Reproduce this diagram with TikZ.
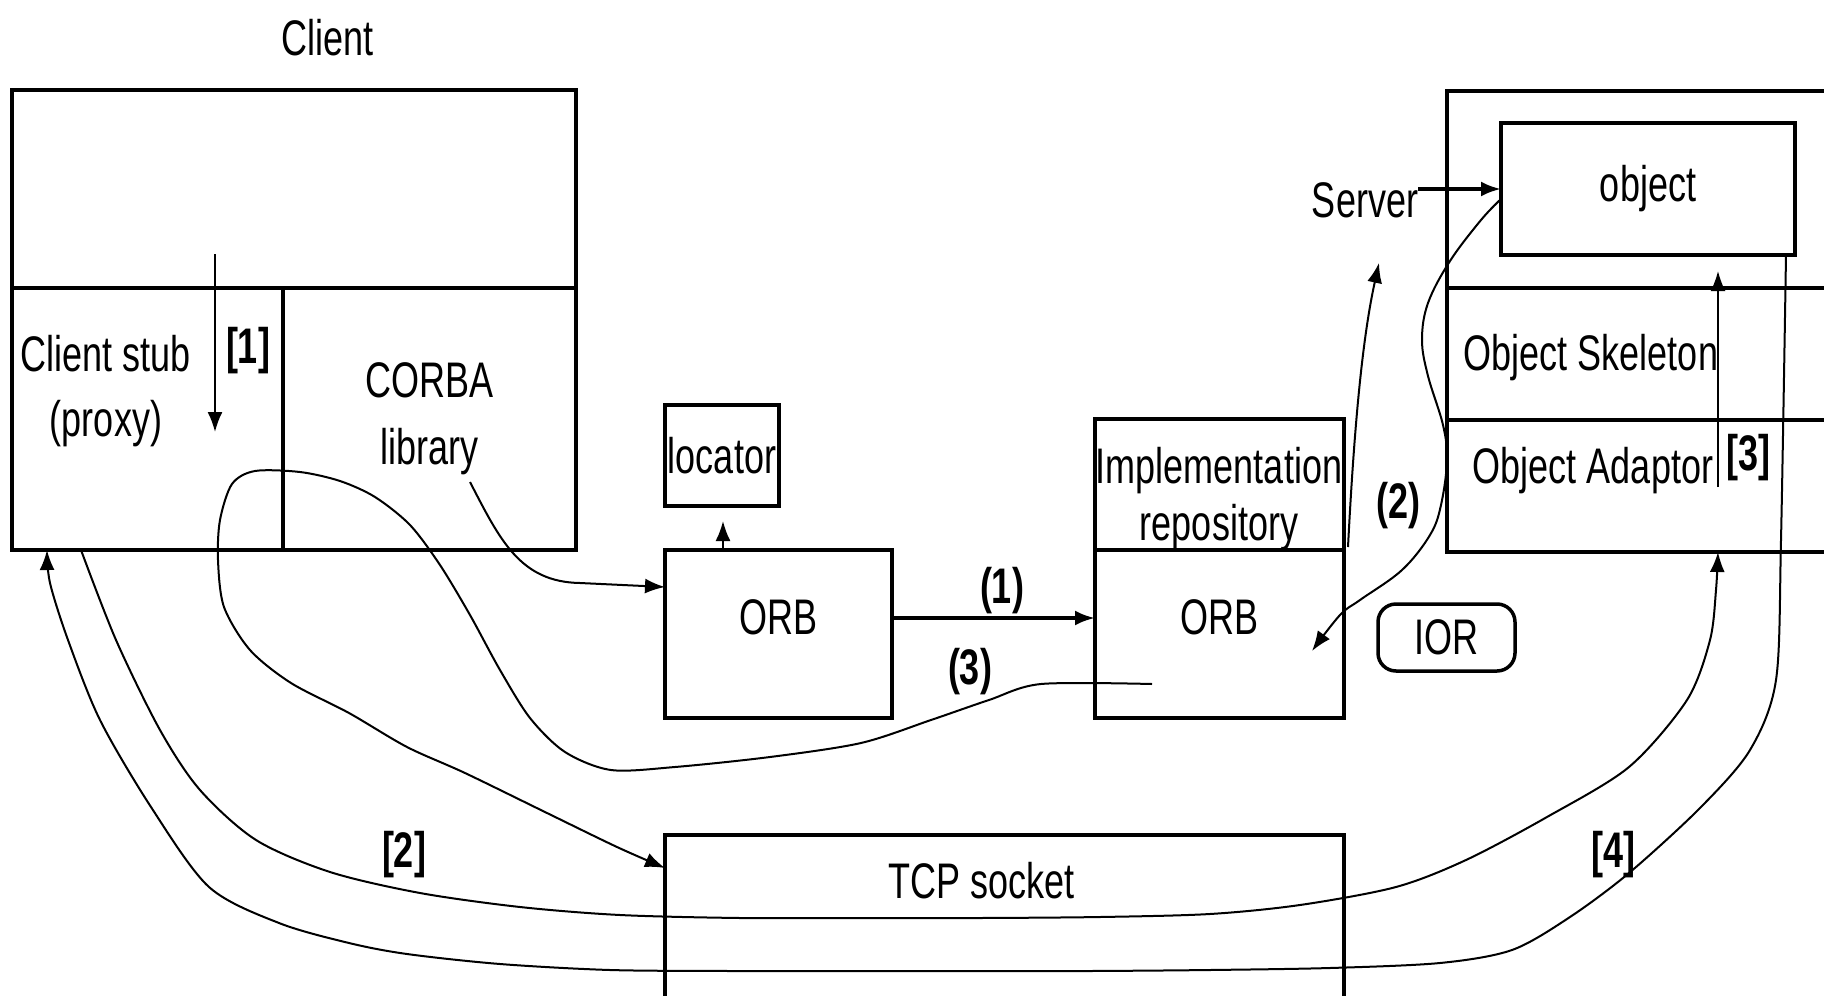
\documentclass[tikz,border=0pt]{standalone}
\usepackage{fontspec}
\setmainfont{Liberation Sans}[FakeStretch=0.72]
\usetikzlibrary{arrows.meta}

\begin{document}
\begin{tikzpicture}[x=1pt, y=-1pt,
    font=\fontsize{50}{60}\selectfont,
    >={Latex[length=20pt,width=15pt]},
    box/.style={draw, line width=3.5pt, inner sep=0pt, outer sep=0pt, anchor=north west},
    lbl/.style={inner sep=0pt, align=center},
    num/.style={inner sep=0pt, font=\fontsize{50}{60}\selectfont\bfseries},
    link/.style={line width=2pt},
    orbtext/.style={text height=36pt, text depth=36pt}]
    \useasboundingbox (0,0) rectangle (1824,996);
    \clip (0,0) rectangle (1824,996);

    % client side
    \node[lbl, anchor=base] (clientlbl) at (328,55) {Client};
    \node[box, minimum width=564pt, minimum height=198pt] (app) at (12,90) {};
    \node[box, minimum width=271pt, minimum height=262pt] (stub) at (12,288) {};
    \node[box, minimum width=293pt, minimum height=262pt, align=center] (lib) at (283,288) {CORBA\\[7pt]library};
    \node[lbl] (stubtext) at (106,391) {Client stub\\[5pt](proxy)};
    \node[num] (n1) at (248,351) {[1]};

    % ORBs
    \node[box, minimum width=114pt, minimum height=101pt] (locator) at (665,405) {locator};
    \node[box, orbtext, minimum width=227pt, minimum height=168pt] (orbL) at (665,550) {ORB};
    \node[box, minimum width=249pt, minimum height=131pt] (impl) at (1095,419) {};
    \node[lbl, font=\fontsize{50}{57}\selectfont] (impltext) at (1219,499) {Implementation\\repository};
    \node[box, orbtext, minimum width=249pt, minimum height=168pt] (orbR) at (1095,550) {ORB};
    \node[box, rounded corners=18pt, minimum width=137pt, minimum height=67pt] (ior) at (1378,604) {IOR};

    % server side
    \node[box, minimum width=500pt, minimum height=197pt] (srv) at (1447,91) {};
    \node[box, minimum width=500pt, minimum height=132pt] (skel) at (1447,288) {};
    \node[box, minimum width=500pt, minimum height=132pt] (adaptor) at (1447,420) {};
    \node[box, minimum width=294pt, minimum height=132pt] (object) at (1501,123) {object};
    \node[lbl, anchor=base] (skeltext) at (1591,370) {Object Skeleton};
    \node[lbl, anchor=base] (adaptext) at (1593,483) {Object Adaptor};
    \node[num] (n3) at (1748,458) {[3]};
    \node[lbl] (server) at (1365,200) {Server};

    % socket
    \node[box, minimum width=679pt, minimum height=300pt] (tcp) at (665,835) {};
    \node[lbl, anchor=base] (tcptext) at (982,898) {TCP socket};

    \node[num] (p1) at (1002,591) {(1)};
    \node[num] (p2) at (1398,506) {(2)};
    \node[num] (p3) at (970,672) {(3)};
    \node[num] (n2) at (404,855) {[2]};
    \node[num] (n4) at (1613,855) {[4]};

    \coordinate (d1) at (215,254);
    \coordinate (d2) at (215,432);
    \coordinate (libend) at (470,482);
    \coordinate (loop) at (1152,684);
    \coordinate (ret) at (1312,651);
    \coordinate (s3) at (1718,487);
    \coordinate (tcpin) at ([yshift=-33pt]tcp.north west);
    \coordinate (c2) at ([xshift=69pt]stub.south west);
    \coordinate (c2end) at (s3 |- adaptor.south);
    \coordinate (c4) at ([xshift=-9pt]object.south east);
    \coordinate (c4end) at ([xshift=35pt]stub.south west);
    \coordinate (objl) at ([yshift=-10pt]object.west);

    \draw[->, link] (d1) -- (d2);
    \draw[->, link, shorten >=15pt] ([xshift=58pt]orbL.north west) -- ([xshift=58pt]locator.south west);
    \draw[->, line width=3.5pt] ([yshift=16pt]orbL.east) -- ([yshift=16pt]orbR.west);
    \draw[->, line width=3.5pt] (server.east |- object.west) -- (object.west);
    \draw[->, link] (libend) .. controls (500,540) and (520,582) .. (580,583) -- ([yshift=-37pt]orbL.north west);
    \draw[->, link] ([xshift=4pt,yshift=3pt]impl.south east) .. controls (1354,430) and (1362,340) .. ([xshift=14pt,yshift=-45pt]server.south);
    \draw[->, link, shorten >=16pt] (s3) -- (s3 |- object.south);

    % (3) loop
    \draw[->, link] plot[smooth, tension=0.5] coordinates {(loop) (1041,684) (989,700) (931,720) (861,743) (770,757) (675,767) (611,770) (565,752) (530,718) (500,670) (470,615) (440,565) (410,525) (375,497) (340,481) (300,472) (255,471) (232,484) (220,520) (218,560) (224,607) (250,650) (291,683) (349,713) (407,747) (465,773) (547,813) (617,847) (tcpin)};
    % (2) back to the ORB
    \draw[->, link] plot[smooth, tension=0.6] coordinates {(objl) (1481,220) (1450,261) (1428,303) (1422,340) (1428,376) (1443,425) (1447,460) (1441,505) (1430,535) (1402,570) (1360,600) (1340,615) (ret)};
    % [2] request
    \draw[->, link] plot[smooth, tension=0.5] coordinates {(c2) (116,640) (160,730) (200,790) (256,840) (330,872) (420,893) (520,907) (620,915) (740,918) (860,918) (980,918) (1100,917) (1210,914) (1300,905) (1396,887) (1466,860) (1547,817) (1629,767) (1687,700) (1710,640) (1716,590) (c2end)};
    % [4] reply
    \draw[->, link] plot[smooth, tension=0.5] coordinates {(c4) (1781,540) (1776,680) (1750,750) (1700,808) (1629,873) (1570,917) (1512,950) (1440,963) (1330,968) (1210,970) (1090,971) (970,971) (850,971) (730,971) (610,970) (500,964) (407,954) (349,943) (279,923) (209,887) (151,807) (100,720) (68,640) (50,583) (c4end)};
\end{tikzpicture}
\end{document}
